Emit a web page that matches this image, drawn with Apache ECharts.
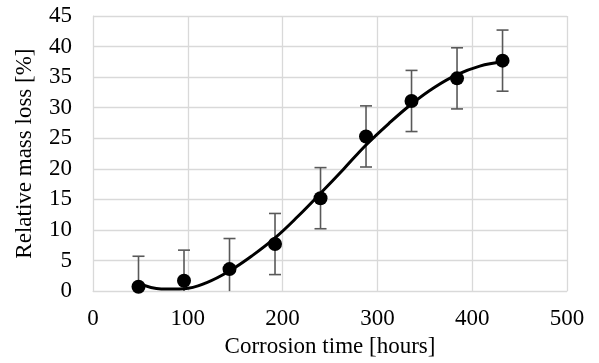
<!DOCTYPE html>
<html>
<head>
<meta charset="utf-8">
<script src="https://cdn.jsdelivr.net/npm/echarts@6/dist/echarts.min.js"></script>
<style>html,body{margin:0;padding:0;background:#fff;}#c{width:599px;height:363px;}</style>
</head>
<body>
<div id="c"></div>
<script>
// Measured data
var timeHours = [48, 96, 144, 192, 240, 288, 336, 384, 432];
var massLoss = [0.7, 1.7, 3.6, 7.7, 15.2, 25.3, 31.1, 34.8, 37.7];
var errorVals = [5, 5, 5, 5, 5, 5, 5, 5, 5];
// Trendline
var trendX = [48, 72, 96, 120, 144, 168, 192, 216, 240, 264, 288, 312, 336, 360, 384, 408, 432];
var trendY = [1.3, 0.35, 0.4, 1.4, 3.3, 5.8, 8.7, 12.2, 16.0, 19.9, 23.9, 27.4, 30.6, 33.3, 35.4, 36.8, 37.5];
var xTicks = [0, 100, 200, 300, 400, 500];
var yTicks = [0, 5, 10, 15, 20, 25, 30, 35, 40, 45];

var FONT = 'Liberation Serif';
var chart = echarts.init(document.getElementById('c'), null, {renderer: 'canvas'});

var pts = timeHours.map(function (x, i) { return [x, massLoss[i]]; });
var errData = timeHours.map(function (x, i) { return [x, massLoss[i], errorVals[i]]; });
var trend = trendX.map(function (x, i) { return [x, trendY[i]]; });

chart.setOption({
  animation: false,
  backgroundColor: '#fff',
  grid: {left: 93, right: 32, top: 16, bottom: 70, containLabel: false},
  xAxis: {
    type: 'value', min: xTicks[0], max: xTicks[xTicks.length - 1], interval: 100,
    name: 'Corrosion time [hours]', nameLocation: 'middle', nameGap: 41,
    nameTextStyle: {fontFamily: FONT, fontSize: 23, color: '#000'},
    axisLine: {show: true, lineStyle: {color: '#d9d9d9', width: 1}},
    axisTick: {show: false},
    axisLabel: {fontFamily: FONT, fontSize: 23, color: '#000', margin: 16},
    splitLine: {show: true, lineStyle: {color: '#d9d9d9', width: 1.3}}
  },
  yAxis: {
    type: 'value', min: yTicks[0], max: yTicks[yTicks.length - 1], interval: 5,
    name: 'Relative mass loss [%]', nameLocation: 'middle', nameGap: 57,
    nameTextStyle: {fontFamily: FONT, fontSize: 23, color: '#000'},
    axisLine: {show: true, lineStyle: {color: '#d9d9d9', width: 1}},
    axisTick: {show: false},
    axisLabel: {fontFamily: FONT, fontSize: 23, color: '#000', margin: 21},
    splitLine: {show: true, lineStyle: {color: '#d9d9d9', width: 1.3}}
  },
  series: [
    {
      type: 'custom',
      data: errData,
      z: 2,
      renderItem: function (params, api) {
        var x = api.value(0), y = api.value(1), e = api.value(2);
        var lo = Math.max(0, y - e), hi = y + e;
        var pHi = api.coord([x, hi]);
        var pLo = api.coord([x, lo]);
        var w = 6;
        var st = {stroke: '#595959', lineWidth: 1.6};
        var children = [
          {type: 'line', shape: {x1: pHi[0], y1: pHi[1], x2: pLo[0], y2: pLo[1]}, style: st},
          {type: 'line', shape: {x1: pHi[0] - w, y1: pHi[1], x2: pHi[0] + w, y2: pHi[1]}, style: st}
        ];
        if (y - e >= 0) {
          children.push({type: 'line', shape: {x1: pLo[0] - w, y1: pLo[1], x2: pLo[0] + w, y2: pLo[1]}, style: st});
        }
        return {type: 'group', children: children};
      }
    },
    {
      type: 'line', data: trend, smooth: 0.4, showSymbol: false, symbol: 'none', z: 3,
      lineStyle: {color: '#000', width: 3}
    },
    {
      type: 'scatter', data: pts, symbol: 'circle', symbolSize: 14, z: 4,
      itemStyle: {color: '#000', opacity: 1}
    }
  ]
});
</script>
</body>
</html>
